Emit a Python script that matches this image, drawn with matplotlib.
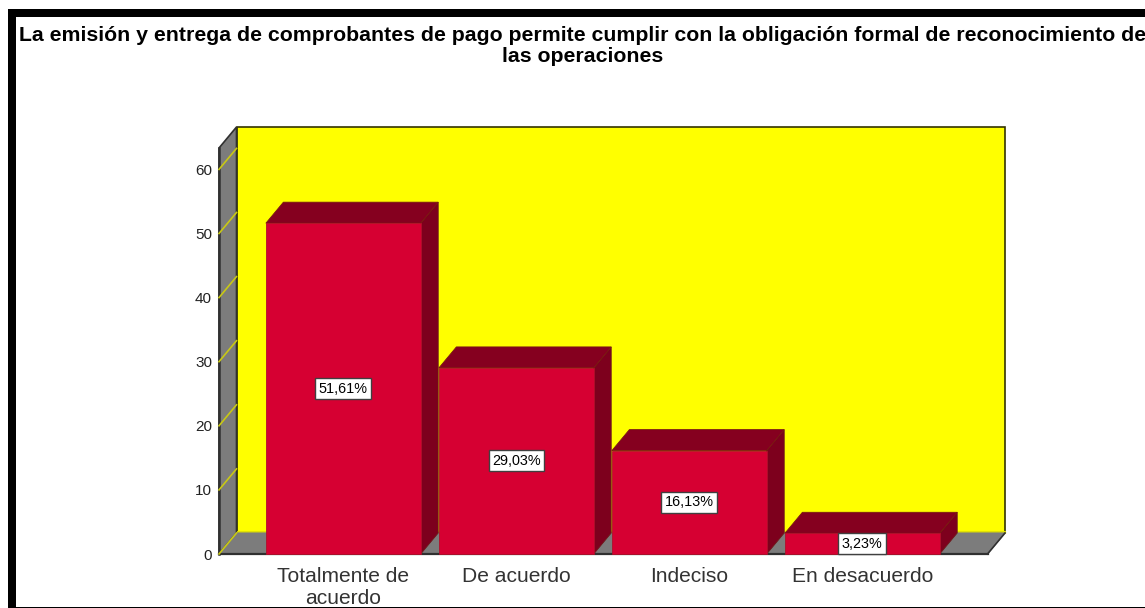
import matplotlib
matplotlib.use("Agg")
import matplotlib.pyplot as plt
from matplotlib.patches import Polygon, Rectangle

plt.rcParams["font.family"] = ["Liberation Sans", "DejaVu Sans"]

categories = ["Totalmente de\nacuerdo", "De acuerdo", "Indeciso", "En desacuerdo"]
values = [51.61, 29.03, 16.13, 3.23]
y_ticks = [0, 10, 20, 30, 40, 50, 60]
title = ("La emisión y entrega de comprobantes de pago permite cumplir con la "
         "obligación formal de reconocimiento de\nlas operaciones")

FRONT = "#d60032"
DARK = "#85001f"
WALL = "#ffff00"
GREY = "#7c7c7c"
TICK = "#c8c814"

W, H = 1145, 608
# front plane of the 3d box, in pixels
PX_L, PX_R, PX_B, PX_T = 219, 987.5, 554, 148
PX_PER_CAT = 173
PX_PER_UNIT = 6.41

fig = plt.figure(figsize=(W / 100, H / 100), dpi=100, facecolor="white")
ax = fig.add_axes([PX_L / W, 1 - PX_B / H, (PX_R - PX_L) / W, (PX_B - PX_T) / H])
ax.set_xlim((PX_L - 343.3) / PX_PER_CAT, (PX_R - 343.3) / PX_PER_CAT)
ax.set_ylim(0, (PX_B - PX_T) / PX_PER_UNIT)
ax.patch.set_visible(False)
for s in ax.spines.values():
    s.set_visible(False)

x0, x1 = ax.get_xlim()
y1 = ax.get_ylim()[1]
dx = 17.5 / PX_PER_CAT
dy = 21 / PX_PER_UNIT
bar_w = 0.895


def poly(pts, color, edge=None, lw=0.8, z=1):
    ax.add_patch(Polygon(pts, closed=True, facecolor=color, edgecolor=edge or color,
                         linewidth=lw, zorder=z, clip_on=False))


# back wall, side wall, floor
poly([(x0 + dx, dy), (x1 + dx, dy), (x1 + dx, y1 + dy), (x0 + dx, y1 + dy)], WALL, "#333300", 1.2)
poly([(x0, 0), (x0 + dx, dy), (x0 + dx, y1 + dy), (x0, y1)], GREY, "#303030", 1.2)
poly([(x0 + dx, dy), (x1 + dx, dy), (x1 + dx, dy + 0.35), (x0 + dx, dy + 0.35)], "#e2e200", z=1.2)
poly([(x0, 0), (x1, 0), (x1 + dx, dy), (x0 + dx, dy)], GREY, z=1.5)
ax.plot([x0, x1], [0, 0], color="#303030", lw=1.6, zorder=1.6, clip_on=False)
ax.plot([x1, x1 + dx], [0, dy], color="#303030", lw=1.2, zorder=1.6, clip_on=False)
ax.plot([x0, x0], [0, y1], color="#303030", lw=1.8, zorder=1.6, clip_on=False)

for t in y_ticks:
    ax.plot([x0, x0 + dx], [t, t + dy], color=TICK, lw=1.2, zorder=1.7, clip_on=False)

# bars
for i, v in enumerate(values):
    l, r = i - bar_w / 2, i + bar_w / 2
    poly([(r, 0), (r + dx, dy), (r + dx, v + dy), (r, v)], "#7d001d", "#6e1a1a", 0.6, z=2)
    poly([(l, v), (r, v), (r + dx, v + dy), (l + dx, v + dy)], DARK, "#7a1a10", 0.6, z=2)
    poly([(l, 0), (r, 0), (r, v), (l, v)], FRONT, "#b0102a", 0.6, z=3)
    ax.text(i, v / 2, f"{v:.2f}%".replace(".", ","), ha="center", va="center",
            fontsize=10.4, color="black", zorder=5,
            bbox=dict(boxstyle="square,pad=0.24", facecolor="white", edgecolor="#404040", linewidth=1))

ax.set_yticks(y_ticks)
ax.set_xticks(range(len(categories)))
ax.set_xticklabels(categories, fontsize=15.1, color="#333333", linespacing=1.2)
ax.tick_params(axis="x", length=0, pad=9)
ax.tick_params(axis="y", length=0, pad=5, labelsize=11, labelcolor="#222222")

# title is clipped by the right edge of the picture, as in the source
fig.text(582.5 / W, 1 - 46 / H, title, ha="center", va="center", fontsize=15.3,
         fontweight="bold", color="black", linespacing=1.15)

# black frame of the screenshot
for px, py, pw, ph in [(8, 9.5, W - 8, 7.5), (8, 9.5, 8, H - 9.5), (8, 606.5, W - 8, 1.5)]:
    fig.add_artist(Rectangle((px / W, 1 - (py + ph) / H), pw / W, ph / H, transform=fig.transFigure,
                             facecolor="black", edgecolor="none"))

fig.savefig("out.png", dpi=100, facecolor="white")
